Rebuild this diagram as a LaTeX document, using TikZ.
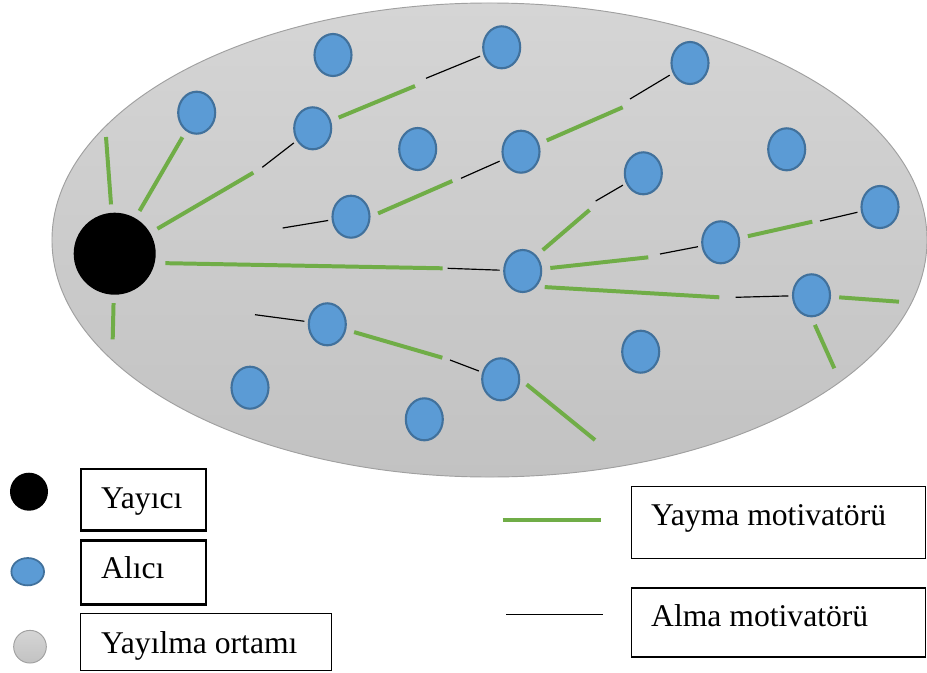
\documentclass[tikz,border=0pt]{standalone}
\usepackage{fontspec}
\setmainfont{Liberation Serif}
\usepackage{xcolor}
\usetikzlibrary{positioning,shapes.geometric}

\definecolor{yaymagruen}{HTML}{70AD47}
\definecolor{alicifill}{HTML}{5B9BD5}
\definecolor{alicirand}{HTML}{41719C}
\definecolor{ortamoben}{HTML}{D5D5D5}
\definecolor{ortamunten}{HTML}{C2C2C2}
\definecolor{ortamrand}{HTML}{A0A0A0}

\begin{document}
\begin{tikzpicture}[
    x=0.03cm, y=-0.03cm,
    font=\fontsize{27}{32}\selectfont,
    ortam/.style={ellipse, draw=ortamrand, line width=0.8pt, top color=ortamoben, bottom color=ortamunten, inner sep=0pt},
    yayici/.style={circle, fill=black, inner sep=0pt, minimum size=2.46cm},
    alici/.style={ellipse, draw=alicirand, fill=alicifill, line width=1.8pt, inner sep=0pt, minimum width=1.11cm, minimum height=1.26cm},
    yayma/.style={draw=yaymagruen, line width=3.4pt, shorten <=7pt},
    alma/.style={draw=black, line width=1pt, shorten >=3pt},
    kasten/.style={rectangle, draw, anchor=north west, inner sep=0pt},
    etikett/.style={anchor=base west, inner sep=0pt}
]
\useasboundingbox (0,0) rectangle (927,672);

% Yayilma ortami
\node[ortam, minimum width=26.25cm, minimum height=14.22cm] (ortam) at (489.5,240) {};

% Yayici
\node[yayici] (yayici) at (114.7,253.7) {};

% Alicilar
\node[alici] (a1) at (333,55) {};
\node[alici] (a2) at (501.7,47.3) {};
\node[alici] (a3) at (690,63) {};
\node[alici] (a4) at (196.7,112.7) {};
\node[alici] (a5) at (312.7,128.3) {};
\node[alici] (a6) at (417.7,149) {};
\node[alici] (a7) at (521,151.7) {};
\node[alici] (a8) at (643.3,173.3) {};
\node[alici] (a9) at (351,216.7) {};
\node[alici] (a10) at (786.7,149.3) {};
\node[alici] (a11) at (880,207) {};
\node[alici] (a12) at (522.7,271) {};
\node[alici] (a13) at (720.7,242.3) {};
\node[alici] (a14) at (811.5,295.3) {};
\node[alici] (a15) at (640.7,351.7) {};
\node[alici] (a16) at (327.3,324.3) {};
\node[alici] (a17) at (500.7,379.3) {};
\node[alici] (a18) at (250,387.7) {};
\node[alici] (a19) at (424.3,419.3) {};

% Luecken zwischen Yayma- und Alma-Abschnitt
\coordinate (g5a) at (253.3,172.7);   \coordinate (g5b) at (262.3,167.3);
\coordinate (g12a) at (442.7,268.3);  \coordinate (g12b) at (447.7,268.3);
\coordinate (g2a) at (415,86);        \coordinate (g2b) at (426,78.3);
\coordinate (g7a) at (452.3,181);     \coordinate (g7b) at (461,178.3);
\coordinate (g3a) at (622.7,107.3);   \coordinate (g3b) at (630,99);
\coordinate (g8a) at (589.5,210);     \coordinate (g8b) at (595.7,201);
\coordinate (g13a) at (648.3,257.3);  \coordinate (g13b) at (660,254);
\coordinate (g11a) at (812.3,221.7);  \coordinate (g11b) at (820,221);
\coordinate (g14a) at (719.3,297.3);  \coordinate (g14b) at (735.7,297.3);
\coordinate (g17a) at (442.3,357.7);  \coordinate (g17b) at (450,360);

% freie Enden
\coordinate (f1) at (106,137);
\coordinate (f2) at (112.7,339.3);
\coordinate (f3) at (282.7,228);
\coordinate (f4) at (899,301.7);
\coordinate (f5) at (834.3,368.3);
\coordinate (f6) at (255,314.7);
\coordinate (f7) at (595,440);

% Verbindungen vom Yayici
\draw[yayma] (yayici) -- (f1);
\draw[yayma] (yayici) -- (f2);
\draw[yayma, shorten >=6pt] (yayici) -- (a4);
\draw[yayma] (yayici) -- (g5a);
\draw[alma] (g5b) -- (a5);
\draw[yayma, shorten <=9pt] (yayici.-13) -- (g12a);
\draw[alma] (g12b) -- (a12);

% Verbindungen zwischen Alicilar
\draw[yayma] (a5) -- (g2a);
\draw[alma] (g2b) -- (a2);

\draw[alma] (f3) -- (a9);
\draw[yayma] (a9.east) -- (g7a);
\draw[alma] (g7b) -- (a7);

\draw[yayma] (a7) -- (g3a);
\draw[alma] (g3b) -- (a3);

\draw[yayma] (a12.north east) -- (g8a);
\draw[alma] (g8b) -- (a8);
\draw[yayma] (a12) -- (g13a);
\draw[alma] (g13b) -- (a13);
\draw[yayma] (a12.south east) -- (g14a);
\draw[alma] (g14b) -- (a14);

\draw[yayma] (a13) -- (g11a);
\draw[alma] (g11b) -- (a11);

\draw[yayma] (a14) -- (f4);
\draw[yayma] (a14.south) -- (f5);

\draw[alma] (f6) -- (a16);
\draw[yayma] (a16) -- (g17a);
\draw[alma] (g17b) -- (a17);
\draw[yayma] (a17.east) -- (f7);

% Legende
\node[yayici, minimum size=1.14cm] (lyayici) at (29,491.7) {};
\node[alici, minimum width=0.98cm, minimum height=0.82cm, line width=1.5pt] (lalici) at (27.7,571.7) {};
\node[ortam, minimum width=0.98cm, minimum height=0.98cm] (lortam) at (30,646.7) {};

\coordinate (ly1) at (502.7,520);
\coordinate (ly2) at (600.7,520);
\coordinate (la1) at (506,614.3);
\coordinate (la2) at (603.3,614.3);
\draw[yayma, shorten <=0pt] (ly1) -- (ly2);
\draw[alma, shorten >=0pt] (la1) -- (la2);

\node[kasten, line width=2pt, minimum width=3.74cm, minimum height=1.84cm] (k1) at (80,468) {};
\node[kasten, line width=2pt, minimum width=3.74cm, minimum height=1.92cm] (k2) at (80,539.3) {};
\node[kasten, line width=1pt, minimum width=7.53cm, minimum height=1.69cm] (k3) at (79.5,613.2) {};
\node[kasten, line width=1.2pt, minimum width=8.82cm, minimum height=2.16cm] (k4) at (630.5,485.5) {};
\node[kasten, line width=1.2pt, minimum width=8.82cm, minimum height=2.07cm] (k5) at (630.5,587.2) {};

\node[etikett] (t1) at (101,508) {Yayıcı};
\node[etikett] (t2) at (101,578) {Alıcı};
\node[etikett] (t3) at (101,653) {Yayılma ortamı};
\node[etikett] (t4) at (651,525) {Yayma motivatörü};
\node[etikett] (t5) at (651,626.7) {Alma motivatörü};

\end{tikzpicture}
\end{document}
